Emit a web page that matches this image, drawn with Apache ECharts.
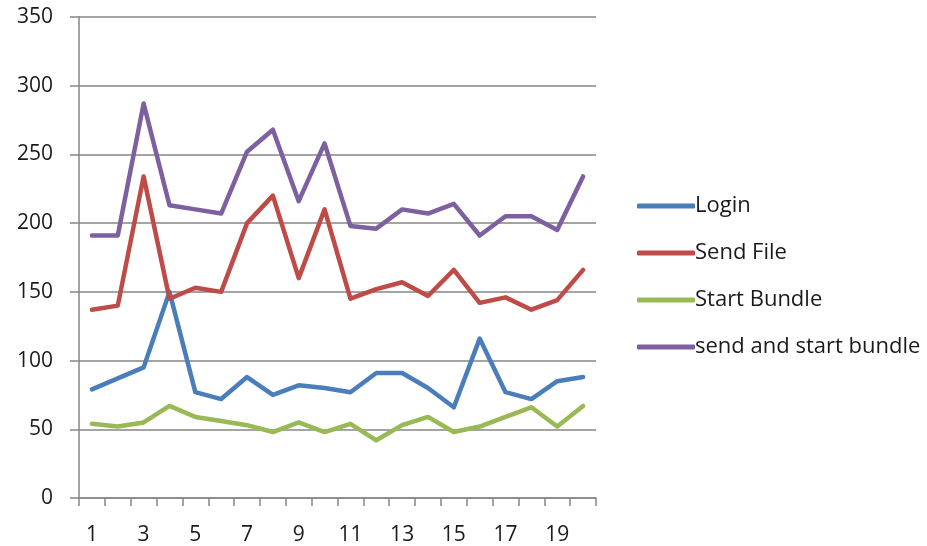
<!DOCTYPE html>
<html><head><meta charset="utf-8">
<script src="https://cdn.jsdelivr.net/npm/echarts@6/dist/echarts.min.js"></script>
<style>html,body{margin:0;padding:0;background:#fff}#c{width:927px;height:546px}</style>
</head><body><div id="c"></div>
<script>
var categories = ['1','2','3','4','5','6','7','8','9','10','11','12','13','14','15','16','17','18','19','20'];
var login = [79,87,95,150,77,72,88,75,82,80,77,91,91,80,66,116,77,72,85,88];
var sendFile = [137,140,234,145,153,150,200,220,160,210,145,152,157,147,166,142,146,137,144,166];
var startBundle = [54,52,55,67,59,56,53,48,55,48,54,42,53,59,48,52,59,66,52,67];
var sendAndStart = [191,191,287,213,210,207,252,268,216,258,198,196,210,207,214,191,205,205,195,234];
var yTicks = [0,50,100,150,200,250,300,350];

var font = 'Open Sans, Liberation Sans, sans-serif';
var chart = echarts.init(document.getElementById('c'));
function ser(name, data, color){
  return {name:name, type:'line', data:data, symbol:'none', smooth:false,
    lineStyle:{width:4.5, color:color, join:'round', cap:'round'}, itemStyle:{color:color}};
}
chart.setOption({
  animation:false,
  grid:{left:79, right:331, top:17, bottom:48, containLabel:false},
  legend:{orient:'vertical', left:632, top:190, itemWidth:58, itemHeight:5, itemGap:25, icon:'roundRect',
    textStyle:{fontFamily:font, fontSize:22, color:'#1a1a1a', padding:[0,0,0,-5]},
    data:['Login','Send File','Start Bundle','send and start bundle']},
  xAxis:{type:'category', data:categories, boundaryGap:true,
    axisLine:{lineStyle:{color:'#868686', width:1.5}},
    axisTick:{show:true, interval:0, length:8, lineStyle:{color:'#868686', width:1.5}},
    axisLabel:{interval:1, fontFamily:font, fontSize:21, color:'#1a1a1a', margin:27}},
  yAxis:{type:'value', min:0, max:350, interval:50,
    axisLine:{show:true, lineStyle:{color:'#868686', width:1.5}},
    axisTick:{show:true, length:9, lineStyle:{color:'#868686', width:1.5}},
    splitLine:{lineStyle:{color:'#868686', width:1.5}},
    axisLabel:{fontFamily:font, fontSize:21, color:'#1a1a1a', margin:26,
      formatter:function(v){return yTicks.indexOf(v)>=0 ? String(v) : '';}}},
  series:[
    ser('Login', login, '#4a7ebb'),
    ser('Send File', sendFile, '#be4b48'),
    ser('Start Bundle', startBundle, '#98b954'),
    ser('send and start bundle', sendAndStart, '#7d60a0')
  ]
});
</script></body></html>
